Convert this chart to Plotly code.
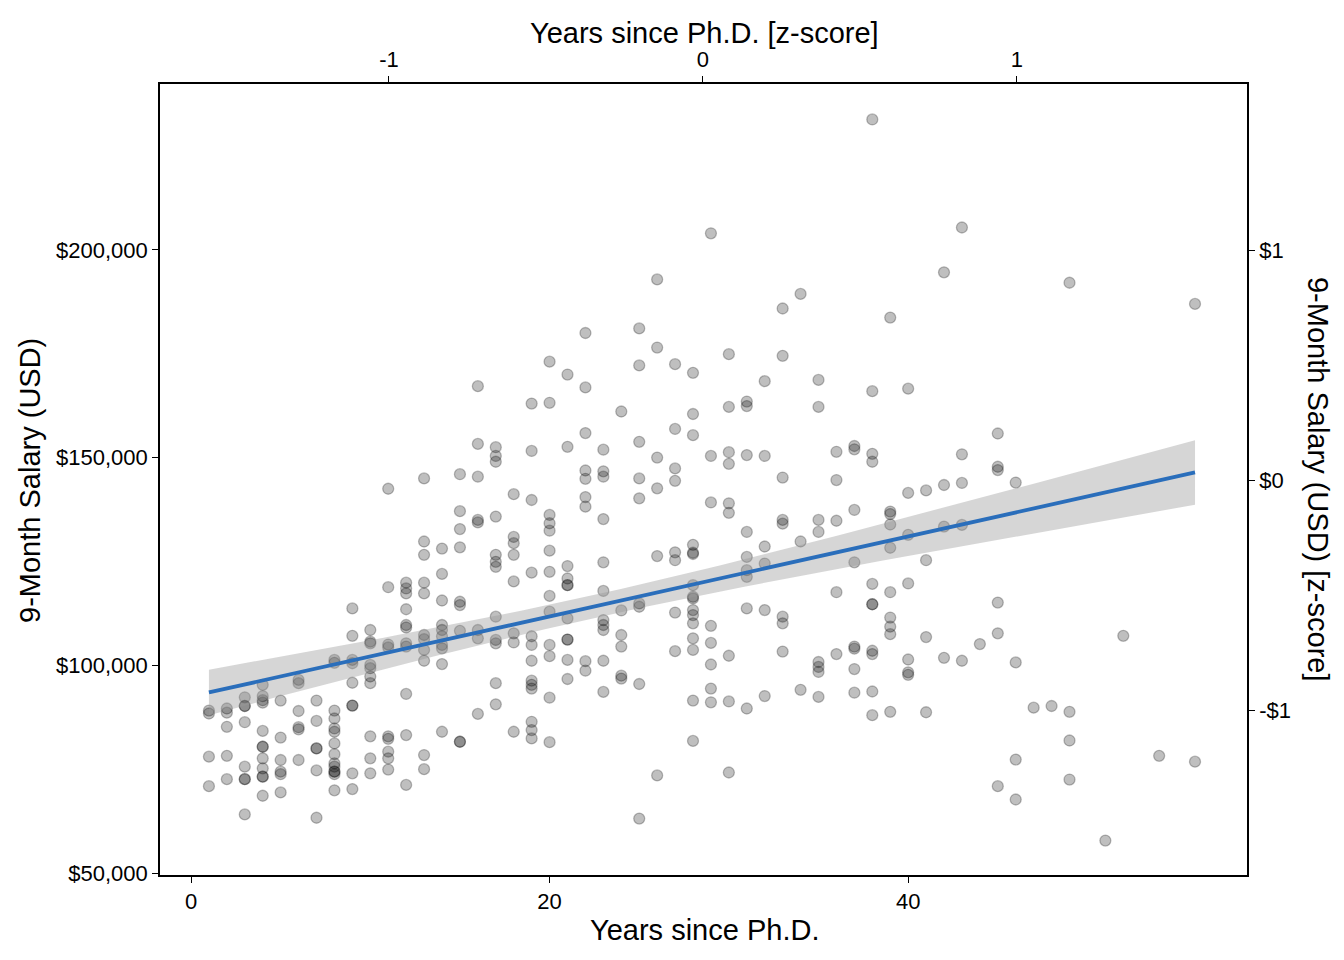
import numpy as np
import plotly.graph_objects as go

# ---- data: years since Ph.D. and 9-month salary (USD) ----
yrs_since_phd = [
    1, 1, 1, 1,
    2, 2, 2, 2, 2,
    3, 3, 3, 3, 3, 3, 3, 3,
    4, 4, 4, 4, 4, 4, 4, 4, 4, 4, 4, 4,
    5, 5, 5, 5, 5, 5,
    6, 6, 6, 6, 6, 6,
    7, 7, 7, 7, 7, 7,
    8, 8, 8, 8, 8, 8, 8, 8, 8, 8, 8, 8, 8, 8,
    9, 9, 9, 9, 9, 9, 9, 9, 9,
    10, 10, 10, 10, 10, 10, 10, 10, 10, 10,
    11, 11, 11, 11, 11, 11, 11, 11, 11,
    12, 12, 12, 12, 12, 12, 12, 12, 12, 12, 12,
    13, 13, 13, 13, 13, 13, 13, 13, 13, 13, 13,
    14, 14, 14, 14, 14, 14, 14, 14, 14, 14,
    15, 15, 15, 15, 15, 15, 15, 15, 15,
    16, 16, 16, 16, 16, 16, 16, 16,
    17, 17, 17, 17, 17, 17, 17, 17, 17, 17, 17, 17,
    18, 18, 18, 18, 18, 18, 18, 18,
    19, 19, 19, 19, 19, 19, 19, 19, 19, 19, 19, 19, 19,
    20, 20, 20, 20, 20, 20, 20, 20, 20, 20, 20, 20, 20,
    21, 21, 21, 21, 21, 21, 21, 21, 21, 21, 21,
    22, 22, 22, 22, 22, 22, 22, 22, 22,
    23, 23, 23, 23, 23, 23, 23, 23, 23, 23, 23,
    24, 24, 24, 24, 24, 24,
    25, 25, 25, 25, 25, 25, 25, 25, 25,
    26, 26, 26, 26, 26, 26,
    27, 27, 27, 27, 27, 27, 27, 27,
    28, 28, 28, 28, 28, 28, 28, 28, 28, 28, 28, 28, 28, 28, 28, 28,
    29, 29, 29, 29, 29, 29, 29, 29,
    30, 30, 30, 30, 30, 30, 30, 30, 30,
    31, 31, 31, 31, 31, 31, 31, 31, 31,
    32, 32, 32, 32, 32, 32,
    33, 33, 33, 33, 33, 33, 33, 33,
    34, 34, 34,
    35, 35, 35, 35, 35, 35, 35, 35,
    36, 36, 36, 36, 36,
    37, 37, 37, 37, 37, 37, 37, 37,
    38, 38, 38, 38, 38, 38, 38, 38, 38, 38, 38,
    39, 39, 39, 39, 39, 39, 39, 39, 39, 39,
    40, 40, 40, 40, 40, 40, 40,
    41, 41, 41, 41,
    42, 42, 42, 42,
    43, 43, 43, 43, 43,
    44,
    45, 45, 45, 45, 45, 45,
    46, 46, 46, 46,
    47,
    48,
    49, 49, 49, 49,
    51,
    52,
    54,
    56, 56,
]

salary = [
    89100, 88400, 78000, 70900,
    89600, 88600, 85200, 78200, 72600,
    92300, 90200, 90200, 86300, 75600, 72600, 72600, 64100,
    95300, 92600, 91600, 91000, 84200, 80400, 80400, 77600, 75200, 73200, 73200, 68600,
    91500, 82600, 77200, 74400, 73800, 69400,
    96500, 95700, 89000, 85100, 84600, 77200,
    91500, 86600, 80000, 80000, 74700, 63300,
    101300, 100600, 89100, 87200, 84800, 84000, 81200, 78600, 76400, 75600, 74400, 74400, 73800, 69900,
    113700, 107100, 101300, 100500, 95800, 90300, 90300, 74000, 70200,
    108500, 105700, 105300, 100100, 99300, 97300, 95700, 82900, 77600, 74000,
    142500, 118800, 105000, 104300, 82900, 82300, 79200, 77600, 74900,
    119900, 118500, 117300, 113500, 109700, 109100, 105300, 104500, 93100, 83200, 71200,
    145000, 129800, 126600, 119900, 117300, 107300, 106300, 103700, 101100, 78400, 75000,
    128100, 122000, 115600, 109700, 108500, 107000, 104900, 104100, 100300, 84000,
    146000, 137100, 132800, 128400, 115300, 114500, 108300, 81600, 81600,
    167200, 153300, 145400, 135000, 134400, 108500, 106500, 88300,
    152500, 150400, 149000, 135800, 126600, 124900, 123700, 111700, 106100, 105300, 95700, 90600,
    141200, 130900, 129400, 126600, 120200, 107700, 105500, 84000,
    163000, 151600, 139800, 122300, 107000, 104900, 101100, 96300, 95300, 94400, 86400, 84400, 82400,
    173100, 163200, 136200, 134200, 132400, 127600, 122500, 116700, 112900, 104900, 102200, 92200, 81500,
    170000, 152600, 123900, 120900, 119300, 119300, 111300, 106200, 106200, 101300, 96700,
    180000, 166900, 155900, 146900, 144900, 140500, 138200, 101000, 98700,
    151900, 146700, 145400, 135200, 124800, 117900, 110900, 109700, 108500, 101100, 93600,
    161100, 113200, 107300, 104500, 97500, 96800,
    181100, 172200, 153800, 145000, 140200, 114900, 114100, 95500, 63100,
    192900, 176500, 150000, 142600, 126300, 73500,
    172500, 156900, 147400, 144400, 127200, 125300, 112700, 103400,
    170400, 160500, 155400, 129000, 127100, 126800, 119300, 116500, 116100, 113300, 112100, 110100, 106500, 103700, 91500, 81800,
    204000, 150400, 139200, 109500, 105400, 100200, 94400, 91100,
    174900, 162200, 151300, 148500, 139000, 136700, 102300, 91300, 74200,
    163500, 162400, 150600, 132100, 126100, 122900, 121300, 113700, 89600,
    168400, 150400, 128600, 124500, 113300, 92600,
    185900, 174500, 145200, 135000, 134100, 111700, 110100, 103300,
    189400, 129800, 94100,
    168700, 162200, 135000, 132100, 100800, 99600, 98400, 92400,
    151400, 144600, 134800, 117600, 102700,
    152800, 152000, 137400, 124800, 104500, 104000, 99100, 93400,
    231400, 166000, 150900, 149000, 119600, 114700, 114700, 103500, 102700, 93700, 88000,
    183700, 137000, 136400, 133900, 128300, 117600, 111500, 109300, 107500, 88800,
    166600, 141500, 131400, 119700, 101400, 98300, 97700,
    142100, 125300, 106800, 88700,
    194600, 143400, 133400, 101800,
    205400, 150800, 143900, 133800, 101100,
    105100,
    155800, 147800, 147000, 115100, 107700, 70900,
    144000, 100700, 77300, 67700,
    89800,
    90200,
    192100, 88800, 81900, 72500,
    57800,
    107100,
    78200,
    187000, 76800,
]

# axis ticks
y_tick_vals = [50000, 100000, 150000, 200000]
y_tick_text = ["$50,000", "$100,000", "$150,000", "$200,000"]
x_tick_vals = [0, 20, 40]
z_tick_vals = [-1, 0, 1]
zx_tick_text = ["-1", "0", "1"]
zy_tick_text = ["-$1", "$0", "$1"]

# secondary-axis (z-score) scaling as drawn on the reference
ZX_CENTER, ZX_SCALE = 28.555, 17.513
ZY_CENTER, ZY_SCALE = 144608.0, 55368.0

X_RANGE = [-1.729, 58.90]
Y_RANGE = [49520, 239940]

# ---- linear fit with 95% confidence band (geom_smooth(method="lm")) ----
x = np.array(yrs_since_phd, dtype=float)
y = np.array(salary, dtype=float)
n = len(x)
b1, b0 = np.polyfit(x, y, 1)
resid = y - (b0 + b1 * x)
s = np.sqrt(np.sum(resid ** 2) / (n - 2))
sxx = np.sum((x - x.mean()) ** 2)
t = 1.966
xf = np.linspace(x.min(), x.max(), 80)
yf = b0 + b1 * xf
se = s * np.sqrt(1.0 / n + (xf - x.mean()) ** 2 / sxx)
lo, hi = yf - t * se, yf + t * se

FONT = "Liberation Sans, Arial, Helvetica, sans-serif"

fig = go.Figure()
fig.add_trace(go.Scatter(
    x=yrs_since_phd, y=salary, mode="markers",
    marker=dict(size=11, color="rgba(0,0,0,0.25)",
                line=dict(width=1.3, color="rgba(0,0,0,0.25)")),
    hoverinfo="x+y", showlegend=False))
fig.add_trace(go.Scatter(
    x=np.concatenate([xf, xf[::-1]]), y=np.concatenate([hi, lo[::-1]]),
    fill="toself", fillcolor="rgba(153,153,153,0.4)", line=dict(width=0),
    mode="lines", hoverinfo="skip", showlegend=False))
fig.add_trace(go.Scatter(
    x=xf, y=yf, mode="lines", line=dict(color="#2A6EBB", width=3.8),
    hoverinfo="skip", showlegend=False))
# empty trace so the secondary axes render
fig.add_trace(go.Scatter(x=[None], y=[None], xaxis="x2", yaxis="y2",
                         showlegend=False, hoverinfo="skip"))

axis_common = dict(showgrid=False, zeroline=False, showline=True,
                   linecolor="black", linewidth=1.6, ticks="outside",
                   ticklen=6, tickwidth=1.4, tickcolor="black",
                   tickfont=dict(family=FONT, size=22, color="black"))

fig.update_layout(
    width=1344, height=960,
    margin=dict(l=160, r=97, t=84, b=85, pad=0),
    paper_bgcolor="white", plot_bgcolor="white",
    font=dict(family=FONT, color="black"),
    xaxis=dict(range=X_RANGE, tickvals=x_tick_vals, **axis_common),
    yaxis=dict(range=Y_RANGE, tickvals=y_tick_vals, ticktext=y_tick_text, **axis_common),
    xaxis2=dict(overlaying="x", side="top", anchor="y",
                range=[(X_RANGE[0] - ZX_CENTER) / ZX_SCALE, (X_RANGE[1] - ZX_CENTER) / ZX_SCALE],
                tickvals=z_tick_vals, ticktext=zx_tick_text, **axis_common),
    yaxis2=dict(overlaying="y", side="right", anchor="x",
                range=[(Y_RANGE[0] - ZY_CENTER) / ZY_SCALE, (Y_RANGE[1] - ZY_CENTER) / ZY_SCALE],
                tickvals=z_tick_vals, ticktext=zy_tick_text, **axis_common),
    showlegend=False,
)

title_font = dict(family=FONT, size=29, color="black")
fig.add_annotation(text="Years since Ph.D.", xref="paper", yref="paper",
                   x=0.5005, y=-0.0695, xanchor="center", yanchor="middle",
                   showarrow=False, font=title_font)
fig.add_annotation(text="Years since Ph.D. [z-score]", xref="paper", yref="paper",
                   x=0.5005, y=1.0645, xanchor="center", yanchor="middle",
                   showarrow=False, font=title_font)
fig.add_annotation(text="9-Month Salary (USD)", xref="paper", yref="paper",
                   x=-0.1196, y=0.4994, xanchor="center", yanchor="middle",
                   textangle=-90, showarrow=False, font=title_font)
fig.add_annotation(text="9-Month Salary (USD) [z-score]", xref="paper", yref="paper",
                   x=1.0653, y=0.4994, xanchor="center", yanchor="middle",
                   textangle=90, showarrow=False, font=title_font)

fig.write_html("out.html")
